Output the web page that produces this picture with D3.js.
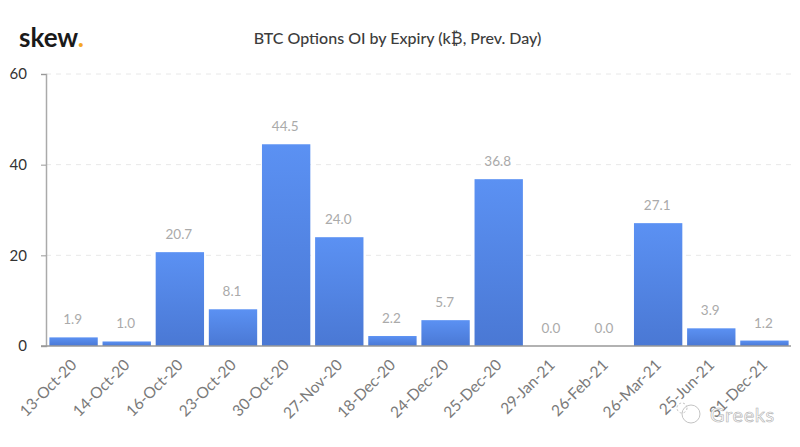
<!DOCTYPE html>
<html><head><meta charset="utf-8">
<script src="https://cdnjs.cloudflare.com/ajax/libs/d3/7.8.5/d3.min.js"></script>
<style>html,body{margin:0;padding:0;background:#fff}svg{display:block;font-family:Lato,sans-serif}</style>
</head><body><svg id="c" width="800" height="447"></svg>
<script>
const expiries=["13-Oct-20","14-Oct-20","16-Oct-20","23-Oct-20","30-Oct-20","27-Nov-20","18-Dec-20","24-Dec-20","25-Dec-20","29-Jan-21","26-Feb-21","26-Mar-21","25-Jun-21","31-Dec-21"];
const oi=[1.9,1.0,20.7,8.1,44.5,24.0,2.2,5.7,36.8,0.0,0.0,27.1,3.9,1.2];
const yTicks=[0,20,40,60];
const svg=d3.select("#c");
const m={l:46,r:791,t:74,b:346};
const x=d3.scaleBand().domain(expiries).range([m.l+1,m.r]).paddingInner(0.09).paddingOuter(0.045);
const y=d3.scaleLinear().domain([0,60]).range([m.b,m.t]);
const lg=svg.append("defs").append("linearGradient").attr("id","barFill").attr("x1",0).attr("x2",0).attr("y1",0).attr("y2",1);
lg.append("stop").attr("offset",0).attr("stop-color","#5b91f3");
lg.append("stop").attr("offset",1).attr("stop-color","#4a78d4");
// grid
svg.append("g").selectAll("line").data(yTicks.filter(d=>d>0)).join("line")
 .attr("x1",m.l).attr("x2",m.r).attr("y1",d=>y(d)).attr("y2",d=>y(d))
 .attr("stroke","#e8e8e8").attr("stroke-dasharray","5 5");
// bars
svg.append("g").selectAll("rect").data(oi).join("rect")
 .attr("x",(d,i)=>x(expiries[i])).attr("width",x.bandwidth())
 .attr("y",d=>y(d)).attr("height",d=>y(0)-y(d)).attr("fill","url(#barFill)");
// value labels
svg.append("g").selectAll("text").data(oi).join("text")
 .attr("x",(d,i)=>x(expiries[i])+x.bandwidth()/2-1).attr("y",d=>y(d)-13)
 .attr("text-anchor","middle").attr("font-size",13.5).attr("fill","#aaaaaa").text(d=>d.toFixed(1));
// y axis
const ya=svg.append("g").attr("transform",`translate(${m.l},0)`).call(d3.axisLeft(y).tickValues(yTicks).tickSize(5).tickPadding(14));
ya.select(".domain").attr("stroke","#aaaaaa").attr("stroke-width",1.5);
ya.selectAll(".tick line").attr("stroke","#999");
ya.selectAll("text").attr("font-family","Lato").attr("font-size",15).attr("fill","#333");
// x axis
const xa=svg.append("g").attr("transform",`translate(0,${m.b})`).call(d3.axisBottom(x).tickSize(0).tickPadding(0));
xa.select(".domain").remove();
svg.append("line").attr("x1",m.l-5).attr("x2",m.r).attr("y1",m.b).attr("y2",m.b).attr("stroke","#999").attr("stroke-width",1.5);
xa.selectAll("text").attr("font-family","Lato").attr("font-size",15.5).attr("fill","#7a7a7a")
 .attr("text-anchor","end").attr("dy",0).attr("y",0)
 .attr("transform","translate(4,20) rotate(-45)");
// title
svg.append("text").attr("x",397.5).attr("y",44).attr("text-anchor","middle").attr("font-size",16).attr("font-weight",500).attr("fill","#3c3c3c").text("BTC Options OI by Expiry (k₿, Prev. Day)");
// logo
const logo=svg.append("text").attr("x",19).attr("y",47).attr("font-size",26).attr("font-weight",700).attr("fill","#1a1a1a");
logo.append("tspan").text("skew");
logo.append("tspan").attr("fill","#f5a623").text(".");
// watermark
const w=svg.append("g").attr("fill","none").attr("stroke","#c4c4c4").attr("stroke-width",1);
w.append("circle").attr("cx",691).attr("cy",414).attr("r",9).attr("fill","#fff");
w.append("circle").attr("cx",682).attr("cy",408).attr("r",5).attr("stroke-dasharray","2 2");
svg.append("text").attr("x",710).attr("y",422).attr("font-size",20).attr("fill","#fff").attr("stroke","#b0b0b0").attr("stroke-width",0.6).attr("letter-spacing",0.6).text("Greeks");
</script></body></html>
